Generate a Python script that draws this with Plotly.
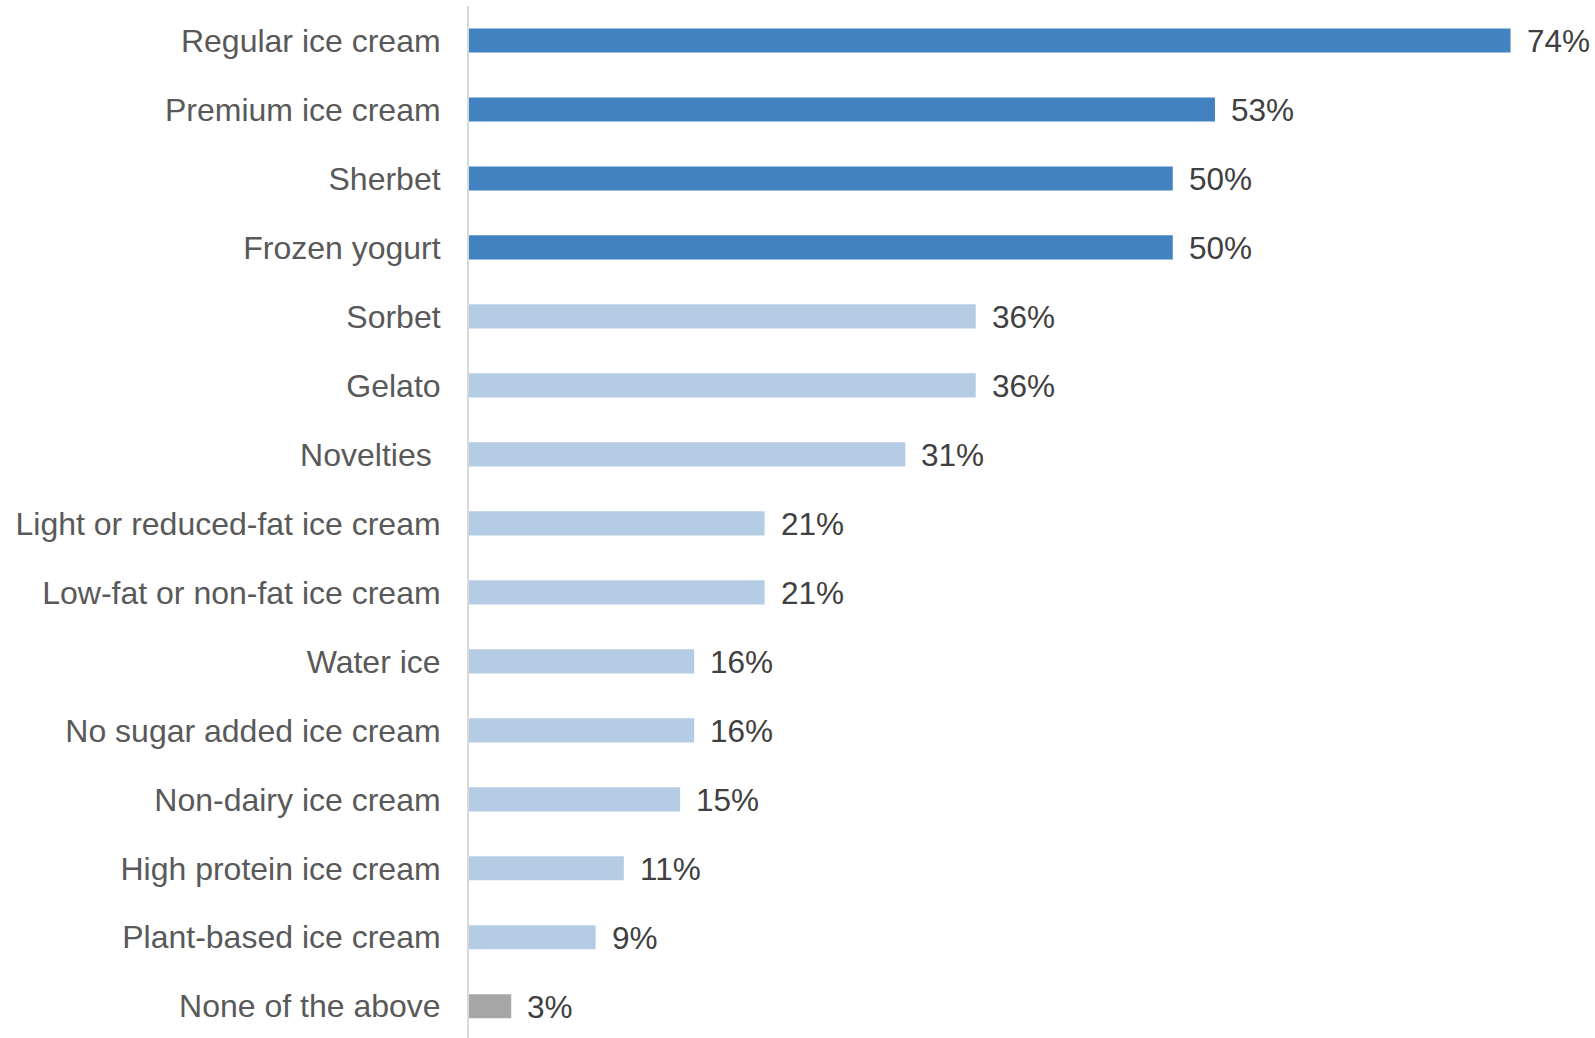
import plotly.graph_objects as go

# Share of respondents who ate each frozen dessert type
categories = [
    "Regular ice cream",
    "Premium ice cream",
    "Sherbet",
    "Frozen yogurt",
    "Sorbet",
    "Gelato",
    "Novelties\u00a0",
    "Light or reduced-fat ice cream",
    "Low-fat or non-fat ice cream",
    "Water ice",
    "No sugar added ice cream",
    "Non-dairy ice cream",
    "High protein ice cream",
    "Plant-based ice cream",
    "None of the above",
]
values = [74, 53, 50, 50, 36, 36, 31, 21, 21, 16, 16, 15, 11, 9, 3]
groups = ["top"] * 4 + ["other"] * 10 + ["none"]

group_colors = {"top": "#4382C0", "other": "#B4CDE4", "none": "#A6A6A6"}
bar_colors = [group_colors[g] for g in groups]
labels = [f"{v}%" for v in values]

FONT = "Liberation Sans, Arial, sans-serif"

fig = go.Figure(
    go.Bar(
        x=values,
        y=categories,
        orientation="h",
        marker=dict(color=bar_colors, line=dict(width=0)),
        hoverinfo="skip",
    )
)

# Value labels just past the end of each bar
for cat, val, lab in zip(categories, values, labels):
    fig.add_annotation(
        x=val,
        y=cat,
        text=lab,
        showarrow=False,
        xanchor="left",
        yanchor="middle",
        xshift=14,
        yshift=-1,
        font=dict(family=FONT, size=31.5, color="#404040"),
    )

fig.update_layout(
    width=1595,
    height=1038,
    margin=dict(l=469, r=0, t=6, b=0),
    paper_bgcolor="white",
    plot_bgcolor="white",
    bargap=0.65,
    showlegend=False,
    xaxis=dict(
        range=[0, 80],
        visible=False,
        showgrid=False,
        zeroline=False,
    ),
    yaxis=dict(
        range=[14.46, -0.5],
        showgrid=False,
        zeroline=False,
        showline=True,
        linecolor="#D9D9D9",
        linewidth=2,
        ticks="",
        ticklabelstandoff=20,
        tickfont=dict(family=FONT, size=32, color="#595959"),
    ),
)

fig.write_html("out.html")
